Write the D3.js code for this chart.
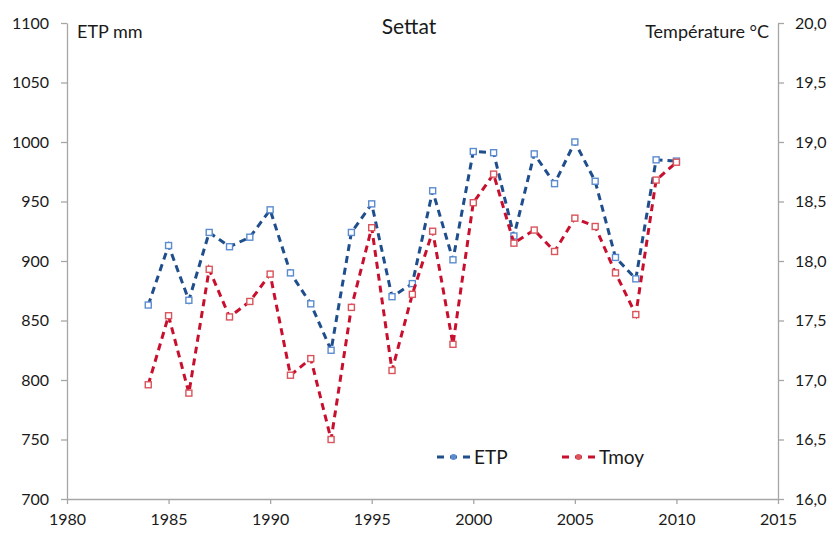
<!DOCTYPE html>
<html>
<head>
<meta charset="utf-8">
<script src="https://cdn.jsdelivr.net/npm/d3@7"></script>
<style>
  html, body { margin: 0; padding: 0; background: #fff; }
  svg { display: block; font-family: Lato, "Open Sans", sans-serif; }
</style>
</head>
<body>
<svg id="chart" width="835" height="534"></svg>
<script>
// Annual series for Settat
const years = [1984, 1985, 1986, 1987, 1988, 1989, 1990, 1991, 1992, 1993, 1994, 1995, 1996, 1997,
               1998, 1999, 2000, 2001, 2002, 2003, 2004, 2005, 2006, 2007, 2008, 2009, 2010];
const etp = [863, 913, 867, 924, 912, 920, 943, 890, 864, 825, 924, 948, 870, 881,
             959, 901, 992, 991, 921, 990, 965, 1000, 967, 903, 885, 985, 984];
const tmoy = [16.96, 17.54, 16.89, 17.93, 17.53, 17.66, 17.89, 17.04, 17.18, 16.50, 17.61, 18.28, 17.08, 17.72,
              18.25, 17.30, 18.49, 18.73, 18.15, 18.26, 18.08, 18.36, 18.29, 17.90, 17.55, 18.68, 18.83];

const xTicks = [1980, 1985, 1990, 1995, 2000, 2005, 2010, 2015];
const leftTicks = [700, 750, 800, 850, 900, 950, 1000, 1050, 1100];
const rightTicks = [16.0, 16.5, 17.0, 17.5, 18.0, 18.5, 19.0, 19.5, 20.0];

const plot = { left: 67, right: 778, top: 23, bottom: 499 };
const axisColor = "#a6a6a6";
const textColor = "#1a1a1a";
const etpLine = "#1f4e8c", etpMarker = "#5b8ccf";
const tmoyLine = "#c8102e", tmoyMarker = "#d9545b";

const svg = d3.select("#chart");

const x = d3.scaleLinear().domain([1980, 2015]).range([plot.left, plot.right]);
const yL = d3.scaleLinear().domain([700, 1100]).range([plot.bottom, plot.top]);
const yR = d3.scaleLinear().domain([16, 20]).range([plot.bottom, plot.top]);

function styleAxis(g) {
  g.selectAll(".domain").attr("stroke", axisColor).attr("stroke-width", 1.3);
  g.selectAll(".tick line").attr("stroke", axisColor).attr("stroke-width", 1.3);
  g.selectAll(".tick text").attr("fill", textColor).style("font-size", "16px")
    .style("font-family", "Lato, 'Open Sans', sans-serif");
}

// Left axis (ETP mm)
svg.append("g")
  .attr("transform", `translate(${plot.left},0)`)
  .call(d3.axisLeft(yL).tickValues(leftTicks).tickSize(6).tickSizeOuter(0).tickPadding(12)
    .tickFormat(d3.format("d")))
  .call(styleAxis);

// Right axis (temperature, comma decimal)
svg.append("g")
  .attr("transform", `translate(${plot.right},0)`)
  .call(d3.axisRight(yR).tickValues(rightTicks).tickSize(6).tickSizeOuter(0).tickPadding(11)
    .tickFormat(d => d3.format(".1f")(d).replace(".", ",")))
  .call(styleAxis);

// Bottom axis (years)
svg.append("g")
  .attr("transform", `translate(0,${plot.bottom})`)
  .call(d3.axisBottom(x).tickValues(xTicks).tickSize(5).tickSizeOuter(0).tickPadding(10)
    .tickFormat(d3.format("d")))
  .call(styleAxis);

// Series lines
const etpPath = d3.line().x((d, i) => x(years[i])).y(d => yL(d));
const tmoyPath = d3.line().x((d, i) => x(years[i])).y(d => yR(d));

svg.append("path").datum(etp)
  .attr("d", etpPath).attr("fill", "none")
  .attr("stroke", etpLine).attr("stroke-width", 3).attr("stroke-dasharray", "7,5");

svg.append("g").selectAll("rect").data(etp).join("rect")
  .attr("x", (d, i) => x(years[i]) - 3).attr("y", d => yL(d) - 3)
  .attr("width", 6).attr("height", 6)
  .attr("fill", "#fff").attr("stroke", etpMarker).attr("stroke-width", 1.4);

svg.append("path").datum(tmoy)
  .attr("d", tmoyPath).attr("fill", "none")
  .attr("stroke", tmoyLine).attr("stroke-width", 3).attr("stroke-dasharray", "7,5");

svg.append("g").selectAll("rect").data(tmoy).join("rect")
  .attr("x", (d, i) => x(years[i]) - 3).attr("y", d => yR(d) - 3)
  .attr("width", 6).attr("height", 6)
  .attr("fill", "#fff").attr("stroke", tmoyMarker).attr("stroke-width", 1.4);

// Titles
svg.append("text").attr("x", 409).attr("y", 34).attr("text-anchor", "middle")
  .attr("fill", textColor).style("font-size", "21px").text("Settat");
svg.append("text").attr("x", 77).attr("y", 38)
  .attr("fill", textColor).style("font-size", "18px").text("ETP mm");
svg.append("text").attr("x", 769).attr("y", 38).attr("text-anchor", "end")
  .attr("fill", textColor).style("font-size", "18px").text("Température °C");

// Legend
const legend = [
  { name: "ETP", line: etpLine, marker: etpMarker, x0: 437 },
  { name: "Tmoy", line: tmoyLine, marker: tmoyMarker, x0: 562 }
];
const lg = svg.append("g").selectAll("g").data(legend).join("g")
  .attr("transform", d => `translate(${d.x0},457)`);
lg.append("line").attr("x1", 0).attr("x2", 33).attr("y1", 0).attr("y2", 0)
  .attr("stroke", d => d.line).attr("stroke-width", 3).attr("stroke-dasharray", "7,6");
lg.append("circle").attr("cx", 16.5).attr("cy", 0).attr("r", 3)
  .attr("fill", d => d.marker);
lg.append("text").attr("x", 37).attr("y", 7)
  .attr("fill", textColor).style("font-size", "19px").text(d => d.name);
</script>
</body>
</html>
